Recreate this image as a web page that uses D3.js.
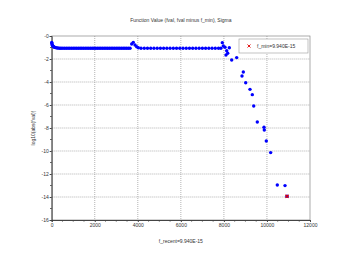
<!DOCTYPE html>
<html>
<head>
<meta charset="utf-8">
<script src="https://cdn.jsdelivr.net/npm/d3@7"></script>
<style>
body { margin: 0; background: #fff; }
text { font-family: "Liberation Sans", Arial, sans-serif; }
</style>
</head>
<body>
<script>
var w = 340, h = 263;

// axis ticks
var xTicks = [0, 2000, 4000, 6000, 8000, 10000, 12000];
var xMinor = [500, 1000, 1500, 2500, 3000, 3500, 4500, 5000, 5500, 6500, 7000, 7500, 8500, 9000, 9500, 10500, 11000, 11500];
var yTicks = [0, -2, -4, -6, -8, -10, -12, -14, -16];
var yMinor = [-1, -3, -5, -7, -9, -11, -13, -15];

// fval history
var startIter = [0, 10, 20, 40, 60, 80, 110, 140, 180, 220, 270, 320, 380, 440, 520];
var startFval = [-0.55, -0.65, -0.75, -0.83, -0.88, -0.92, -0.96, -0.99, -1.01, -1.03, -1.04, -1.05, -1.06, -1.06, -1.07];

var flatIter = [600, 680, 760, 840, 920, 1000, 1080, 1160, 1240, 1320, 1400, 1480, 1560, 1640, 1720, 1800, 1880, 1960,
  2040, 2120, 2200, 2280, 2360, 2440, 2520, 2600, 2680, 2760, 2840, 2920, 3000, 3080, 3160, 3240, 3320, 3400, 3480, 3560, 3640];
var flatFval = [-1.07, -1.07, -1.07, -1.07, -1.07, -1.07, -1.07, -1.07, -1.07, -1.07, -1.07, -1.07, -1.07, -1.07, -1.07, -1.07, -1.07, -1.07,
  -1.07, -1.07, -1.07, -1.07, -1.07, -1.07, -1.07, -1.07, -1.07, -1.07, -1.07, -1.07, -1.07, -1.07, -1.07, -1.07, -1.07, -1.07, -1.07, -1.07, -1.07];

var bumpIter = [3716, 3790, 3870, 3948, 4025];
var bumpFval = [-0.7, -0.55, -0.78, -0.93, -1.02];

var sparseIter = [4150, 4300, 4450, 4600, 4750, 4900, 5050, 5200, 5350, 5500, 5650, 5800, 5950, 6100,
  6250, 6400, 6550, 6700, 6850, 7000, 7150, 7300, 7450, 7600, 7750];
var sparseFval = [-1.07, -1.07, -1.07, -1.07, -1.07, -1.07, -1.07, -1.07, -1.07, -1.07, -1.07, -1.07, -1.07, -1.07,
  -1.07, -1.07, -1.07, -1.07, -1.07, -1.07, -1.07, -1.07, -1.07, -1.07, -1.07];

var tailIter = [7860, 7926, 7972, 8051, 8098, 8130, 8177, 8251, 8362, 8594, 8841, 8902, 9013, 9212, 9320, 9385, 9552, 9863, 9877, 9970, 10173, 10481, 10839, 10932];
var tailFval = [-1.07, -0.58, -0.87, -0.98, -1.65, -1.28, -1.5, -1.02, -2.09, -1.88, -3.48, -3.13, -4.06, -4.64, -5.1, -6.09, -7.48, -7.94, -8.17, -9.13, -10.14, -12.96, -13.01, -13.94];

var fminIter = [10932];
var fminFval = [-13.94];

var titleText = "Function Value (fval, fval minus f_min), Sigma";
var xLabel = "f_recent=9.940E-15";
var yLabel = "log10(abs(fval))";
var legendText = "f_min=9.940E-15";

var points = [];
[[startIter, startFval], [flatIter, flatFval], [bumpIter, bumpFval], [sparseIter, sparseFval], [tailIter, tailFval]]
  .forEach(function (s) {
    for (var i = 0; i < s[0].length; i++) points.push({x: s[0][i], y: s[1][i]});
  });

var pLeft = 51.7, pRight = 310, pTop = 36, pBottom = 220;

var x = d3.scaleLinear().domain([0, 12000]).range([pLeft, pRight]);
var y = d3.scaleLinear().domain([-16, 0]).range([pBottom, pTop]);

var svg = d3.select("body").append("svg").attr("width", w).attr("height", h);
svg.append("rect").attr("width", w).attr("height", h).attr("fill", "#fff");

// grid
var grid = svg.append("g").attr("stroke", "#a0a0a0").attr("stroke-width", 0.8).attr("stroke-dasharray", "1,1");
grid.selectAll(".gx").data(xTicks.slice(1, -1)).enter().append("line")
  .attr("x1", function (d) { return x(d); }).attr("x2", function (d) { return x(d); })
  .attr("y1", pTop).attr("y2", pBottom);
grid.selectAll(".gy").data(yTicks.slice(1, -1)).enter().append("line")
  .attr("x1", pLeft).attr("x2", pRight)
  .attr("y1", function (d) { return y(d); }).attr("y2", function (d) { return y(d); });

// frame
svg.append("rect").attr("x", pLeft).attr("y", pTop).attr("width", pRight - pLeft).attr("height", pBottom - pTop)
  .attr("fill", "none").attr("stroke", "#888").attr("stroke-width", 0.7);

// axes
var xAxis = d3.axisBottom(x).tickValues(xTicks).tickSize(2).tickFormat(d3.format("d"));
var gx = svg.append("g").attr("transform", "translate(0," + pBottom + ")").call(xAxis);
gx.selectAll(".xm").data(xMinor).enter().append("line")
  .attr("x1", function (d) { return x(d); }).attr("x2", function (d) { return x(d); })
  .attr("y1", 0).attr("y2", 1.5).attr("stroke", "#444");

var yAxis = d3.axisLeft(y).tickValues(yTicks).tickSize(2).tickFormat(function (d) { return d === 0 ? "-0" : String(d); });
var gy = svg.append("g").attr("transform", "translate(" + pLeft + ",0)").call(yAxis);
gy.selectAll(".ym").data(yMinor).enter().append("line")
  .attr("x1", 0).attr("x2", -1.5)
  .attr("y1", function (d) { return y(d); }).attr("y2", function (d) { return y(d); }).attr("stroke", "#444");

[gx, gy].forEach(function (g) {
  g.select(".domain").attr("stroke", "#333").attr("stroke-width", 0.9);
  g.selectAll(".tick line").attr("stroke", "#444");
  g.selectAll(".tick text").attr("font-size", 5).attr("fill", "#333")
    .attr("font-family", "'Liberation Sans', Arial, sans-serif");
});
gx.selectAll(".tick text").attr("dy", "0.9em").attr("y", 2.5);
gy.selectAll(".tick text").attr("x", -3);

// points
svg.append("g").selectAll("circle").data(points).enter().append("circle")
  .attr("cx", function (d) { return x(d.x); })
  .attr("cy", function (d) { return y(d.y); })
  .attr("r", 1.7)
  .attr("fill", "#0000ff");

// f_min cross
function cross(g, cx, cy, s, sw) {
  g.append("path")
    .attr("d", "M" + (cx - s) + "," + (cy - s) + "L" + (cx + s) + "," + (cy + s) +
      "M" + (cx - s) + "," + (cy + s) + "L" + (cx + s) + "," + (cy - s))
    .attr("stroke", "#e00000").attr("stroke-width", sw).attr("fill", "none");
}
var fg = svg.append("g");
for (var i = 0; i < fminIter.length; i++) cross(fg, x(fminIter[i]), y(fminFval[i]), 1.6, 1.2);

// legend
var lg = svg.append("g");
lg.append("rect").attr("x", 239).attr("y", 39).attr("width", 69).attr("height", 14)
  .attr("fill", "#fff").attr("stroke", "#999").attr("stroke-width", 0.6);
cross(lg, 249, 46, 1.5, 0.9);
lg.append("text").attr("x", 257).attr("y", 47.8).attr("font-size", 5).attr("fill", "#333").text(legendText);

// titles
svg.append("text").attr("x", (pLeft + pRight) / 2).attr("y", 22).attr("text-anchor", "middle")
  .attr("font-size", 5).attr("fill", "#333").text(titleText);
svg.append("text").attr("x", (pLeft + pRight) / 2).attr("y", 243).attr("text-anchor", "middle")
  .attr("font-size", 5).attr("fill", "#333").text(xLabel);
svg.append("text").attr("transform", "translate(35," + ((pTop + pBottom) / 2) + ") rotate(-90)")
  .attr("text-anchor", "middle").attr("font-size", 5).attr("fill", "#333").text(yLabel);
</script>
</body>
</html>
